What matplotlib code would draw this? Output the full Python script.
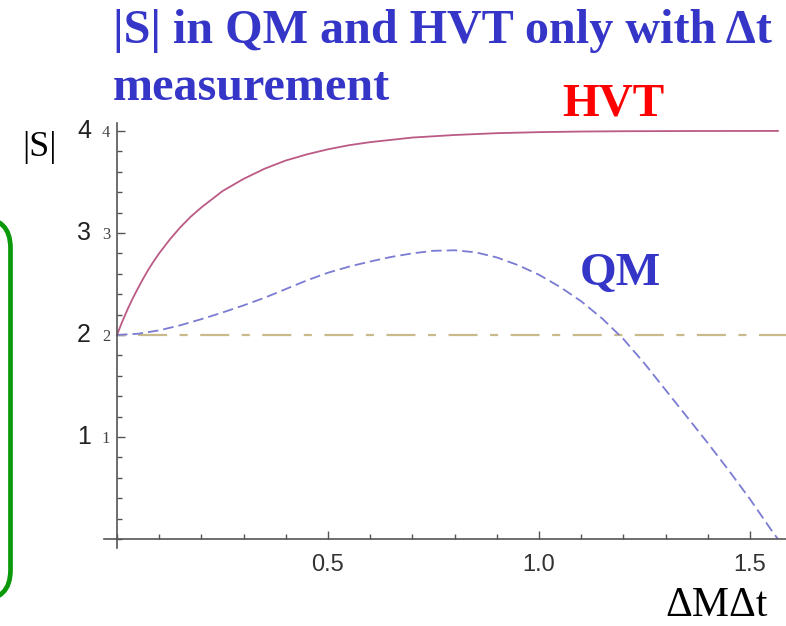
import matplotlib
matplotlib.use("Agg")
import matplotlib.pyplot as plt
from matplotlib.patches import FancyBboxPatch
from matplotlib.transforms import IdentityTransform
from matplotlib.ticker import MultipleLocator, FixedLocator

plt.rcParams['lines.scale_dashes'] = False

# |S| for hidden variable theory (solid) and quantum mechanics (dashed)
hvt_x = [0, 0.0125, 0.025, 0.0375, 0.05, 0.0625, 0.075, 0.0875, 0.1, 0.125, 0.15,
         0.175, 0.2, 0.25, 0.3, 0.35, 0.4, 0.45, 0.5, 0.55, 0.6, 0.7, 0.8, 0.9, 1.0,
         1.1, 1.2, 1.35, 1.566]
hvt_s = [2.00, 2.13, 2.25, 2.36, 2.46, 2.555, 2.645, 2.725, 2.80, 2.935, 3.055,
         3.16, 3.25, 3.41, 3.53, 3.63, 3.71, 3.77, 3.82, 3.86, 3.89, 3.935, 3.96,
         3.978, 3.988, 3.994, 3.997, 3.999, 4.0]

qm_x = [0, 0.05, 0.1, 0.15, 0.2, 0.25, 0.3, 0.35, 0.4, 0.45, 0.5, 0.55, 0.6, 0.65,
        0.7, 0.75, 0.8, 0.85, 0.9, 0.95, 1.0, 1.05, 1.1, 1.15, 1.2, 1.25, 1.3, 1.35,
        1.4, 1.45, 1.5, 1.55, 1.566]
qm_s = [2.00, 2.012, 2.045, 2.095, 2.155, 2.22, 2.29, 2.365, 2.45, 2.535, 2.61, 2.67,
        2.72, 2.765, 2.80, 2.825, 2.83, 2.81, 2.76, 2.685, 2.59, 2.47, 2.33, 2.16,
        1.96, 1.72, 1.46, 1.20, 0.94, 0.67, 0.39, 0.09, 0.0]

bound_x = [0, 1.585]
bound_s = [2, 2]

x_major = [0.5, 1.0, 1.5]
y_major = [1, 2, 3, 4]

fig = plt.figure(figsize=(7.86, 6.26), dpi=100)
ax = fig.add_axes([0.1327, 0.1243, 0.8672, 0.6796])

ax.plot(bound_x, bound_s, color='#c9ba8c', lw=1.6,
        linestyle=(29.5, (20.9, 9.0, 5.8, 9.0)))
ax.plot(qm_x, qm_s, color='#7b7bd3', lw=1.3, linestyle=(0, (7.6, 3.6)))
ax.plot(hvt_x, hvt_s, color='#bb5a85', lw=1.3)

ax.set_xlim(-0.03, 1.585)
ax.set_ylim(-0.09, 4.08)

for side in ('top', 'right'):
    ax.spines[side].set_visible(False)
ax.spines['left'].set_position(('data', 0))
ax.spines['bottom'].set_position(('data', 0))
for side in ('left', 'bottom'):
    ax.spines[side].set_color('#555555')
    ax.spines[side].set_linewidth(1.2)

ax.xaxis.set_major_locator(FixedLocator(x_major))
ax.xaxis.set_minor_locator(MultipleLocator(0.1))
ax.yaxis.set_major_locator(FixedLocator(y_major))
ax.yaxis.set_minor_locator(MultipleLocator(0.2))
ax.tick_params(which='both', direction='in', color='#555555', width=1.0)
ax.tick_params(which='major', length=5.8)
ax.tick_params(which='minor', length=3.6)
ax.tick_params(axis='x', which='major', pad=11, labelsize=17, labelcolor='#333333')
ax.tick_params(axis='y', which='major', pad=5, labelsize=12, labelcolor='#444444')
ax.set_xticklabels(['0.5', '1.0', '1.5'], family='Liberation Sans')
ax.set_yticklabels(['1', '2', '3', '4'], family='Liberation Serif')

# larger copy of the y labels on the left
for v in y_major:
    yy = 1 - (539 - 102 * v) / 626
    fig.text(84 / 786, yy, str(v), ha='center', va='center', fontsize=18,
             family='Liberation Sans', color='#222222')

fig.text(39.5 / 786, 1 - 148 / 626, '|S|', ha='center', va='center', fontsize=26,
         family='Liberation Serif', color='black')
fig.text(665 / 786, 1.5 / 626, 'ΔMΔt', ha='left', va='bottom', fontsize=30,
         family='Liberation Serif', color='black')

title_kw = dict(ha='left', va='baseline', fontsize=34.7, family='Liberation Serif',
                fontweight='bold', color='#3535c8')
fig.text(113 / 786, 1 - 43 / 626, '|S| in QM and HVT only with Δt', **title_kw)
fig.text(113 / 786, 1 - 100 / 626, 'measurement', **title_kw)
fig.text(562 / 786, 1 - 115 / 626, 'HVT', ha='left', va='baseline', fontsize=34,
         family='Liberation Serif', fontweight='bold', color='#ff0000')
fig.text(580 / 786, 1 - 285 / 626, 'QM', ha='left', va='baseline', fontsize=34,
         family='Liberation Serif', fontweight='bold', color='#3535c8')

# green frame cut off at the left edge
frame = FancyBboxPatch((-60, 26), 70.5, 382, boxstyle='round,pad=0,rounding_size=30',
                       transform=IdentityTransform(), fc='none', ec='#0b990b', lw=3.4)
fig.add_artist(frame)

fig.savefig('out.png', dpi=100)
